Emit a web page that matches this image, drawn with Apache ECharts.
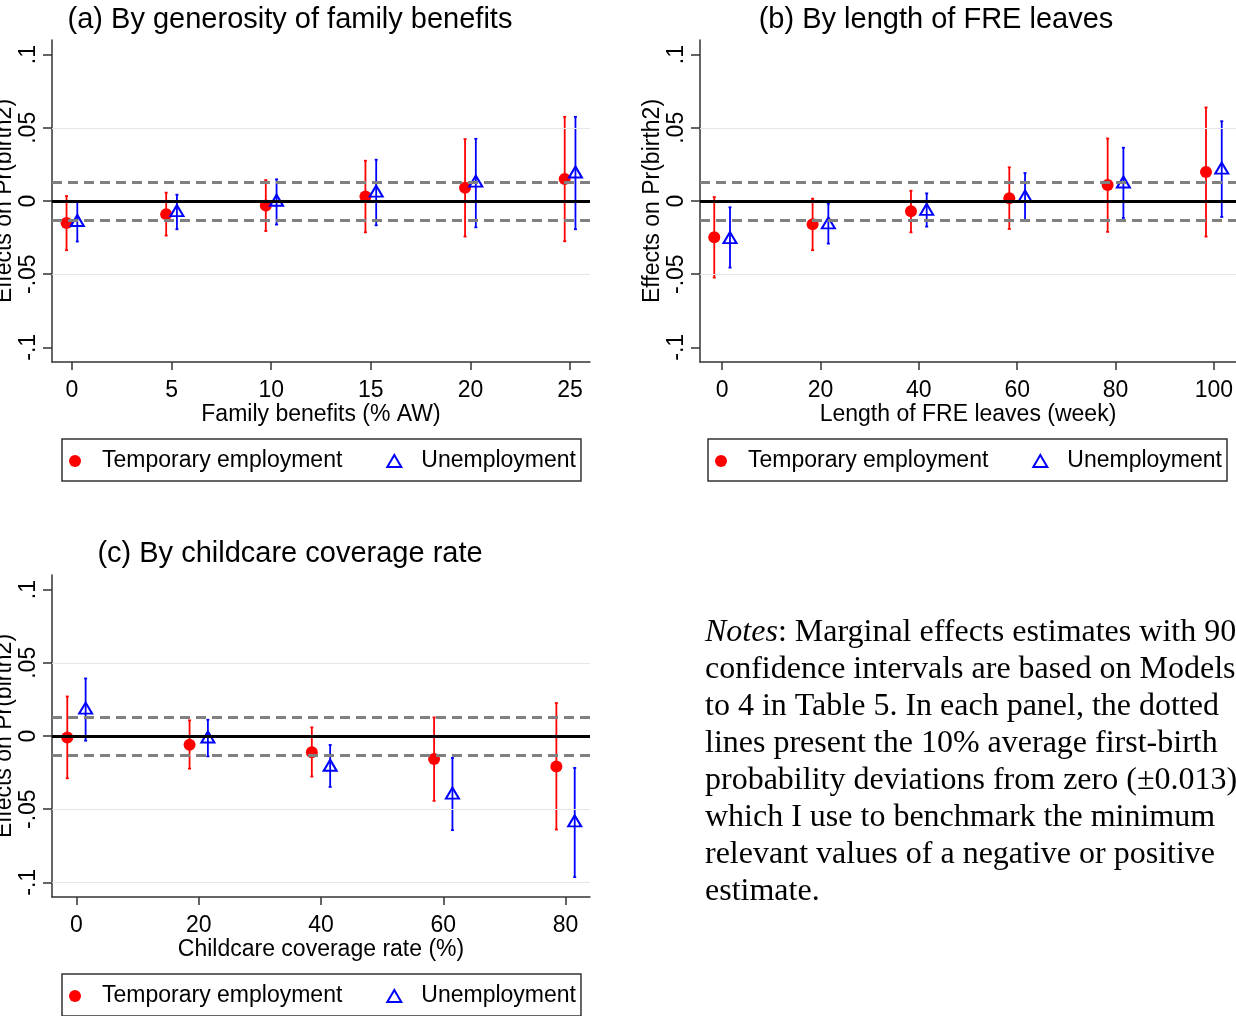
<!DOCTYPE html>
<html>
<head>
<meta charset="utf-8">
<script src="https://cdn.jsdelivr.net/npm/echarts@6/dist/echarts.min.js"></script>
<style>
  html, body { margin: 0; padding: 0; background: #fff; }
  #chart { width: 1236px; height: 1016px; }
</style>
</head>
<body>
<div id="chart"></div>
<script>
// ---- Panel (a): family benefits (% AW) ----
const levelsA = [0, 5, 10, 15, 20, 25];
const tempA = [-0.015, -0.009, -0.003, 0.003, 0.009, 0.015];
const tempLoA = [-0.0336, -0.0236, -0.0205, -0.0214, -0.0243, -0.0275];
const tempHiA = [0.0034, 0.0057, 0.0143, 0.0275, 0.0423, 0.0575];
const unempA = [-0.0133, -0.0066, 0.0005, 0.0068, 0.0136, 0.0198];
const unempLoA = [-0.0277, -0.0193, -0.0161, -0.0166, -0.0180, -0.0193];
const unempHiA = [0.0000, 0.0043, 0.0148, 0.0282, 0.0425, 0.0575];

// ---- Panel (b): length of FRE leaves (week) ----
const levelsB = [0, 20, 40, 60, 80, 100];
const tempB = [-0.0248, -0.0159, -0.0070, 0.0018, 0.0109, 0.0198];
const tempLoB = [-0.0523, -0.0336, -0.0214, -0.0191, -0.0211, -0.0243];
const tempHiB = [0.0027, 0.0016, 0.0070, 0.0230, 0.0427, 0.0639];
const unempB = [-0.0250, -0.0150, -0.0057, 0.0034, 0.0130, 0.0225];
const unempLoB = [-0.0455, -0.0291, -0.0175, -0.0132, -0.0116, -0.0109];
const unempHiB = [-0.0043, -0.0018, 0.0052, 0.0191, 0.0364, 0.0545];

// ---- Panel (c): childcare coverage rate (%) ----
const levelsC = [0, 20, 40, 60, 80];
const tempC = [-0.0011, -0.0059, -0.0111, -0.0157, -0.0209];
const tempLoC = [-0.0289, -0.0223, -0.0277, -0.0443, -0.0639];
const tempHiC = [0.0270, 0.0107, 0.0059, 0.0127, 0.0225];
const unempC = [0.0190, -0.0007, -0.0200, -0.0390, -0.0580];
const unempLoC = [-0.0032, -0.0139, -0.0348, -0.0643, -0.0964];
const unempHiC = [0.0393, 0.0111, -0.0061, -0.0150, -0.0218];

// Axis ticks and labels
const yTicks = [-0.1, -0.05, 0, 0.05, 0.1];
const yTickLabels = ['-.1', '-.05', '0', '.05', '.1'];
const xTicksA = [0, 5, 10, 15, 20, 25];
const xTicksB = [0, 20, 40, 60, 80, 100];
const xTicksC = [0, 20, 40, 60, 80];

// Reference lines: zero, ±0.013 benchmark, light grid
const benchmark = 0.013;
const gridLinesAB = [-0.05, 0.05];
const gridLinesC = [-0.1, -0.05, 0.05];

const panelTitles = [
  '(a) By generosity of family benefits',
  '(b) By length of FRE leaves',
  '(c) By childcare coverage rate'
];
const xNames = ['Family benefits (% AW)', 'Length of FRE leaves (week)', 'Childcare coverage rate (%)'];
const yName = 'Effects on Pr(birth2)';
const seriesNames = ['Temporary employment', 'Unemployment'];

const notesLines = [
  '{i|Notes}: Marginal effects estimates with 90%',
  'confidence intervals are based on Models 1',
  'to 4 in Table 5. In each panel, the dotted',
  'lines present the 10% average first-birth',
  'probability deviations from zero (\u00b10.013),',
  'which I use to benchmark the minimum',
  'relevant values of a negative or positive',
  'estimate.'
];

const SANS = '"Liberation Sans", Arial, Helvetica, sans-serif';
const SERIF = '"Liberation Serif", "Times New Roman", serif';
const RED = '#ff0000';
const BLUE = '#0000ff';

const panels = [
  { levels: levelsA, temp: tempA, tLo: tempLoA, tHi: tempHiA, unemp: unempA, uLo: unempLoA, uHi: unempHiA,
    xTicks: xTicksA, xMin: -1, xMax: 26, dodge: 0.27, grid: { left: 52, top: 40, width: 538, height: 322 },
    gridLines: gridLinesAB, legendPos: { left: 62, top: 439 } },
  { levels: levelsB, temp: tempB, tLo: tempLoB, tHi: tempHiB, unemp: unempB, uLo: unempLoB, uHi: unempHiB,
    xTicks: xTicksB, xMin: -4.5, xMax: 104.5, dodge: 1.6, grid: { left: 700, top: 40, width: 536, height: 322 },
    gridLines: gridLinesAB, legendPos: { left: 708, top: 439 } },
  { levels: levelsC, temp: tempC, tLo: tempLoC, tHi: tempHiC, unemp: unempC, uLo: unempLoC, uHi: unempHiC,
    xTicks: xTicksC, xMin: -4, xMax: 84, dodge: 1.5, grid: { left: 52, top: 575, width: 538, height: 322 },
    gridLines: gridLinesC, legendPos: { left: 62, top: 974 } }
];

function errorBars(idx, xs, lo, hi, shift, color) {
  return {
    type: 'custom',
    xAxisIndex: idx,
    yAxisIndex: idx,
    z: 2,
    silent: true,
    data: xs.map((x, i) => [x + shift, lo[i], hi[i]]),
    encode: { x: 0, y: [1, 2] },
    renderItem: function (params, api) {
      const p1 = api.coord([api.value(0), api.value(1)]);
      const p2 = api.coord([api.value(0), api.value(2)]);
      const cap = 1.5;
      const st = { stroke: color, lineWidth: 1.8 };
      return {
        type: 'group',
        children: [
          { type: 'line', shape: { x1: p1[0], y1: p1[1], x2: p2[0], y2: p2[1] }, style: st },
          { type: 'line', shape: { x1: p1[0] - cap, y1: p1[1], x2: p1[0] + cap, y2: p1[1] }, style: st },
          { type: 'line', shape: { x1: p2[0] - cap, y1: p2[1], x2: p2[0] + cap, y2: p2[1] }, style: st }
        ]
      };
    }
  };
}

const grids = [], xAxes = [], yAxes = [], series = [], legends = [];

panels.forEach((p, idx) => {
  grids.push(Object.assign({ containLabel: false, outerBoundsMode: 'none' }, p.grid));

  xAxes.push({
    type: 'value', gridIndex: idx, min: p.xMin, max: p.xMax,
    name: xNames[idx], nameLocation: 'middle', nameGap: 39,
    nameTextStyle: { fontFamily: SANS, fontSize: 23, color: '#000' },
    axisLine: { show: true, onZero: false, lineStyle: { color: '#333', width: 1.5 } },
    axisTick: { show: true, length: 8, lineStyle: { color: '#333', width: 1.5 }, customValues: p.xTicks },
    axisLabel: { show: true, margin: 17, fontFamily: SANS, fontSize: 23, color: '#000', customValues: p.xTicks },
    splitLine: { show: false }
  });

  yAxes.push({
    type: 'value', gridIndex: idx, min: -0.11, max: 0.11,
    name: yName, nameLocation: 'middle', nameGap: 36, nameRotate: 90,
    nameTextStyle: { fontFamily: SANS, fontSize: 23, color: '#000' },
    axisLine: { show: true, onZero: false, lineStyle: { color: '#333', width: 1.5 } },
    axisTick: { show: true, length: 9, lineStyle: { color: '#333', width: 1.5 }, customValues: yTicks },
    axisLabel: {
      show: true, rotate: 90, margin: 12, fontFamily: SANS, fontSize: 23, color: '#000',
      customValues: yTicks,
      formatter: v => {
        const k = yTicks.findIndex(t => Math.abs(t - v) < 1e-9);
        return k >= 0 ? yTickLabels[k] : '';
      }
    },
    splitLine: { show: false }
  });

  // reference lines drawn beneath the estimates
  const refLines = p.gridLines.map(v => ({ yAxis: v, lineStyle: { color: '#e6e6e6', width: 1, type: 'solid' } }));
  refLines.push({ yAxis: benchmark, lineStyle: { color: '#808080', width: 3, type: [10, 6] } });
  refLines.push({ yAxis: -benchmark, lineStyle: { color: '#808080', width: 3, type: [10, 6] } });
  refLines.push({ yAxis: 0, lineStyle: { color: '#000', width: 2.8, type: 'solid' } });
  series.push({
    type: 'line', xAxisIndex: idx, yAxisIndex: idx, data: [], z: 1, silent: true,
    markLine: { silent: true, symbol: 'none', precision: 4, label: { show: false }, animation: false, data: refLines }
  });

  series.push(errorBars(idx, p.levels, p.tLo, p.tHi, -p.dodge, RED));
  series.push(errorBars(idx, p.levels, p.uLo, p.uHi, p.dodge, BLUE));

  series.push({
    name: seriesNames[0], type: 'scatter', xAxisIndex: idx, yAxisIndex: idx, z: 3,
    symbol: 'circle', symbolSize: 12,
    itemStyle: { color: RED, opacity: 1 },
    emphasis: { disabled: true },
    data: p.levels.map((x, i) => [x - p.dodge, p.temp[i]])
  });
  series.push({
    name: seriesNames[1], type: 'scatter', xAxisIndex: idx, yAxisIndex: idx, z: 3,
    symbol: 'triangle', symbolSize: [13, 11],
    itemStyle: { color: 'rgba(0,0,0,0)', borderColor: BLUE, borderWidth: 2, opacity: 1 },
    emphasis: { disabled: true },
    data: p.levels.map((x, i) => [x + p.dodge, p.unemp[i]])
  });

  legends.push({
    left: p.legendPos.left, top: p.legendPos.top,
    orient: 'horizontal',
    padding: [10, 5, 8, 7],
    itemGap: 44, itemWidth: 14, itemHeight: 12,
    borderColor: '#333', borderWidth: 1.5,
    selectedMode: false,
    formatter: name => '{g|}' + name,
    textStyle: {
      fontFamily: SANS, fontSize: 23, color: '#000', lineHeight: 24,
      rich: { g: { width: 15 } }
    },
    data: [
      { name: seriesNames[0], icon: 'circle', itemStyle: { color: RED, borderWidth: 0 } },
      { name: seriesNames[1], icon: 'triangle', itemStyle: { color: 'rgba(0,0,0,0)', borderColor: BLUE, borderWidth: 2 } }
    ]
  });
});

const titlePos = [[290, 20], [936, 20], [290, 554]];
const graphics = panelTitles.map((t, i) => ({
  type: 'text', x: titlePos[i][0], y: titlePos[i][1], silent: true,
  style: { text: t, fontFamily: SANS, fontSize: 29, fill: '#000', align: 'center', verticalAlign: 'middle' }
}));
notesLines.forEach((line, k) => {
  graphics.push({
    type: 'text', x: 705, y: 633 + 37 * k, silent: true,
    style: {
      text: line, fontFamily: SERIF, fontSize: 32, fill: '#000', align: 'left', verticalAlign: 'middle',
      rich: { i: { fontFamily: SERIF, fontSize: 32, fontStyle: 'italic', fill: '#000' } }
    }
  });
});

const chart = echarts.init(document.getElementById('chart'), null, { renderer: 'canvas' });
chart.setOption({
  animation: false,
  backgroundColor: '#fff',
  grid: grids,
  xAxis: xAxes,
  yAxis: yAxes,
  legend: legends,
  series: series,
  graphic: graphics
});
</script>
</body>
</html>
